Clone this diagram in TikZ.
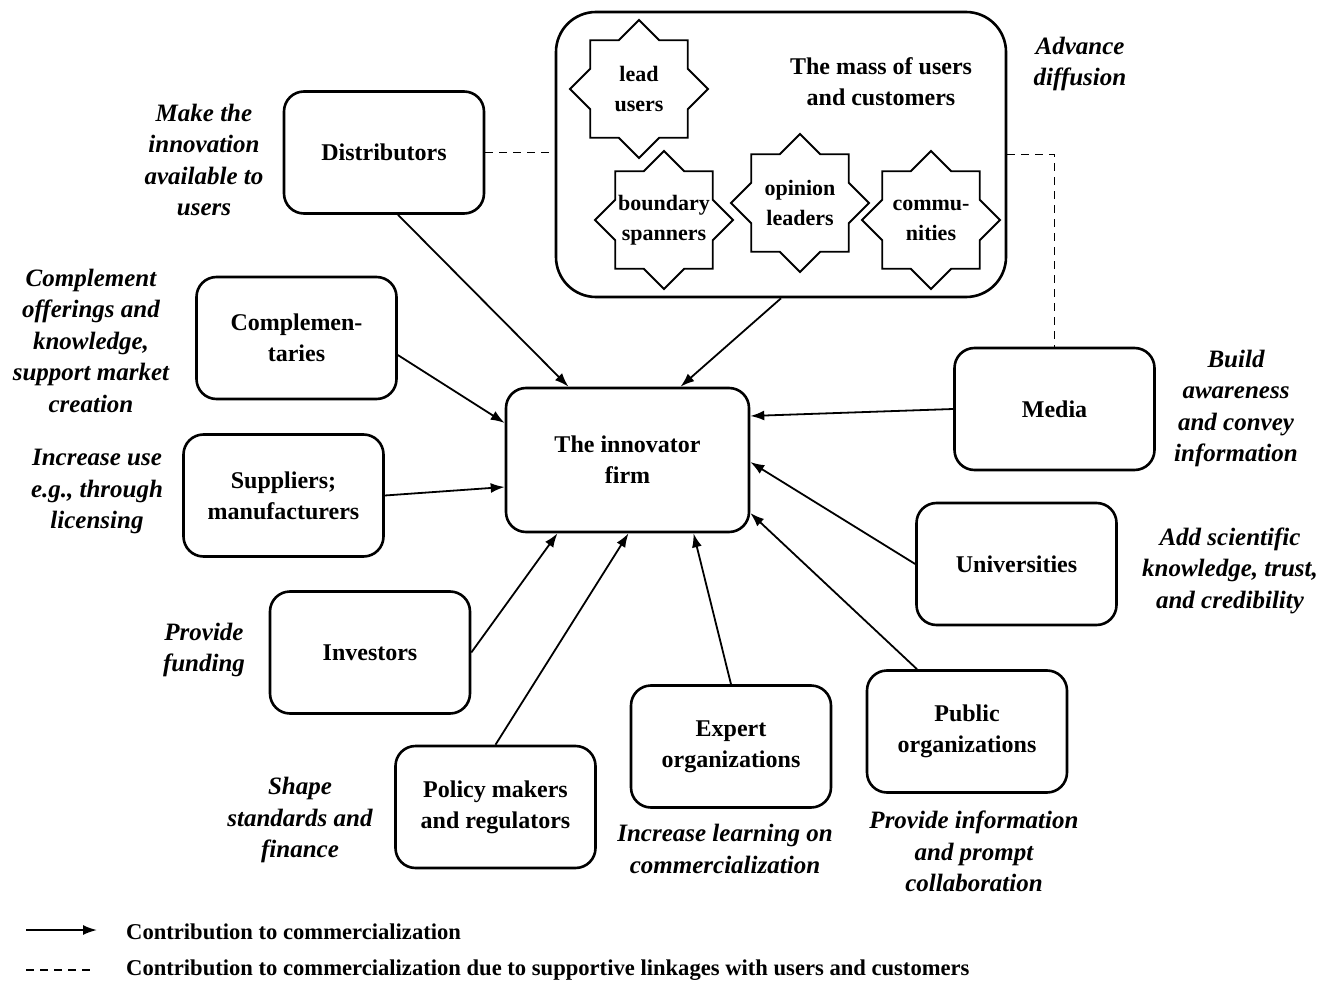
\documentclass[tikz,border=0pt]{standalone}
\usepackage{fontspec}
\setmainfont{Liberation Serif}
\usetikzlibrary{shapes.geometric,arrows.meta,calc}
\begin{document}
\begin{tikzpicture}[x=1pt,y=-1pt,
 box/.style={draw,line width=2.6pt,rounded corners=20pt,minimum width=200pt,minimum height=122pt,align=center,font=\bfseries\fontsize{24}{31}\selectfont,inner sep=0pt},
 starbox/.style={draw,line width=1.8pt,star,star points=8,star point ratio=1.307,minimum size=138pt,inner sep=0pt},
 startext/.style={align=center,font=\bfseries\fontsize{22}{30}\selectfont},
 note/.style={align=center,font=\bfseries\itshape\fontsize{25}{31.5}\selectfont},
 arr/.style={line width=1.8pt,-{Latex[length=14pt,width=10pt]}},
 dashline/.style={line width=1.6pt,dash pattern=on 8pt off 6pt},
 legend/.style={anchor=west,font=\bfseries\fontsize{22.6}{26}\selectfont,inner sep=0pt}
]
\useasboundingbox (0,0) rectangle (1336,987);

% user group
\node[draw,line width=2.6pt,rounded corners=40pt,minimum width=450pt,minimum height=285pt] (users) at (781,154.5) {};
\node[startext,font=\bfseries\fontsize{24}{31}\selectfont] (masstxt) at (881,82) {The mass of users\\and customers};
\node[starbox] (lead) at (639,89) {};
\node[startext] (leadtxt) at (lead.center) {lead\\users};
\node[starbox] (bound) at (664,220) {};
\node[startext] (boundtxt) at (bound.center) {boundary\\spanners};
\node[starbox] (opin) at (800,203) {};
\node[startext] (opintxt) at (opin.center) {opinion\\leaders};
\node[starbox] (comm) at (931,220) {};
\node[startext] (commtxt) at (comm.center) {commu-\\nities};

% boxes
\node[box,minimum width=243pt,minimum height=144pt] (firm) at (627.5,460) {The innovator\\firm};
\node[box] (dist) at (384,152.5) {Distributors};
\node[box] (comp) at (296.5,338) {Complemen-\\taries};
\node[box] (supp) at (283.5,495.5) {Suppliers;\\manufacturers};
\node[box] (inv) at (370,652.5) {Investors};
\node[box] (pol) at (495.5,807) {Policy makers\\and regulators};
\node[box] (exp) at (731,746.5) {Expert\\organizations};
\node[box] (pub) at (967,731.5) {Public\\organizations};
\node[box] (uni) at (1016.5,564) {Universities};
\node[box] (media) at (1054.5,409) {Media};

% notes
\node[note] (ndist) at (204,160) {Make the\\innovation\\available to\\users};
\node[note] (ncomp) at (91,340.5) {Complement\\offerings and\\knowledge,\\support market\\creation};
\node[note] (nsupp) at (97,491.5) {Increase use\\e.g., through\\licensing};
\node[note] (ninv) at (204,650) {Provide\\funding};
\node[note] (npol) at (300,820) {Shape\\standards and\\finance};
\node[note] (nexp) at (725,849) {Increase learning on\\commercialization};
\node[note] (npub) at (974,851.5) {Provide information\\and prompt\\collaboration};
\node[note] (nuni) at (1230,570.5) {Add scientific\\knowledge, trust,\\and credibility};
\node[note] (nmedia) at (1236,408.5) {Build\\awareness\\and convey\\information};
\node[note] (nusers) at (1080,64) {Advance\\diffusion};

% arrows
\draw[arr] ([xshift=14pt]dist.south) -- ([xshift=-59pt]firm.north);
\draw[arr] (users.south) -- ([xshift=53pt]firm.north);
\draw[arr] ([yshift=-17pt]comp.east) -- ([yshift=37pt]firm.west);
\draw[arr] (supp.east) -- ([yshift=-27pt]firm.west);
\draw[arr] (inv.east) -- ([xshift=-70pt]firm.south);
\draw[arr] (pol.north) -- ([xshift=1pt]firm.south);
\draw[arr] (exp.north) -- ([xshift=66pt]firm.south);
\draw[arr] ([xshift=-50pt]pub.north) -- ([yshift=-53pt]firm.east);
\draw[arr] (uni.west) -- ([yshift=-2pt]firm.east);
\draw[arr] (media.west) -- ([yshift=44pt]firm.east);

% dashed links
\draw[dashline] (dist.east) -- (dist.east -| users.west);
\draw[dashline] (users.east) -| (media.north);

% legend
\coordinate (la) at (26,930);
\coordinate (lb) at (97,930);
\draw[arr] (la) -- (lb);
\node[legend] (lt1) at (126,932) {Contribution to commercialization};
\coordinate (lc) at (26,970);
\coordinate (ld) at (92,970);
\draw[dashline] (lc) -- (ld);
\node[legend] (lt2) at (126,970) {Contribution to commercialization due to supportive linkages with users and customers};
\end{tikzpicture}
\end{document}
